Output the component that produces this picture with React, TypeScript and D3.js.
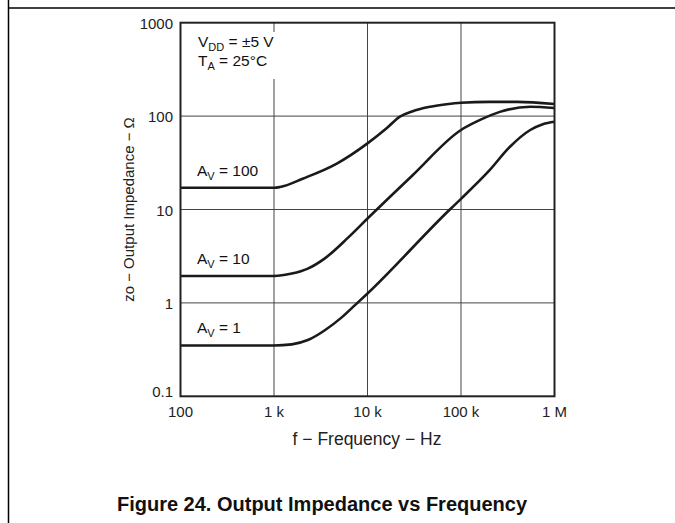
import React from "react";
import * as d3 from "d3";

const xTicks = [100, 1000, 10000, 100000, 1000000];
const xTickLabels = ["100", "1 k", "10 k", "100 k", "1 M"];
const yTicks = [0.1, 1, 10, 100, 1000];
const yTickLabels = ["0.1", "1", "10", "100", "1000"];

const freqAv100 = [100, 1000, 1160, 2060, 4700, 10000, 16000, 22000, 30000, 45000, 70000, 100000, 200000, 400000, 1000000];
const zAv100 = [17.1, 17.1, 17.4, 21.5, 31, 51, 74, 98, 112, 125, 134, 139, 142, 142, 135];

const freqAv10 = [100, 1000, 1550, 2300, 3500, 6200, 10000, 30000, 100000, 160000, 260000, 550000, 1000000];
const zAv10 = [1.94, 1.94, 2.06, 2.33, 3.0, 5.0, 8, 23, 71, 91, 111, 126, 122];

const freqAv1 = [100, 1000, 1550, 2300, 3500, 5300, 7300, 10000, 76000, 100000, 200000, 334000, 550000, 750000, 1000000];
const zAv1 = [0.35, 0.35, 0.36, 0.4, 0.51, 0.7, 0.94, 1.26, 10, 13, 26, 47, 71, 82, 87];

const seriesNames = ["100", "10", "1"];
const labelValues = [17.1, 1.94, 0.35];

export default function App() {
  const W = 675, H = 523;
  const x0 = 180.5, x1 = 554.5, y0 = 22.7, y1 = 396.3;
  const x = d3.scaleLog().domain([100, 1000000]).range([x0, x1]);
  const y = d3.scaleLog().domain([0.1, 1000]).range([y1, y0]);
  const line = d3
    .line<[number, number]>()
    .x((d) => x(d[0]))
    .y((d) => y(d[1]))
    .curve(d3.curveMonotoneX);
  const series = [
    freqAv100.map((f, i) => [f, zAv100[i]] as [number, number]),
    freqAv10.map((f, i) => [f, zAv10[i]] as [number, number]),
    freqAv1.map((f, i) => [f, zAv1[i]] as [number, number]),
  ];
  const font = "'Liberation Sans', Arial, sans-serif";
  const gridColor = "#444";
  const fs = 15;
  const lfs = 15.5;
  const sfs = 11;
  return (
    <svg width={W} height={H} style={{ position: "absolute", left: 0, top: 0 }} fontFamily={font}>
      <rect x={0} y={0} width={W} height={H} fill="#fff" />
      {/* page frame */}
      <line x1={8.5} y1={0} x2={8.5} y2={H} stroke="#000" strokeWidth={1.5} />
      <line x1={8} y1={8} x2={W} y2={8} stroke="#000" strokeWidth={1.5} />
      {/* grid */}
      {xTicks.slice(1, -1).map((t) => (
        <line key={"gx" + t} x1={x(t)} x2={x(t)} y1={y0} y2={y1} stroke={gridColor} strokeWidth={1} />
      ))}
      {yTicks.slice(1, -1).map((t) => (
        <line key={"gy" + t} x1={x0} x2={x1} y1={y(t)} y2={y(t)} stroke={gridColor} strokeWidth={1} />
      ))}
      {/* annotation mask */}
      <rect x={190} y={32} width={100} height={47} fill="#fff" />
      <text x={198} y={47} fontSize={lfs} fill="#111">
        V<tspan fontSize={sfs} dy={4}>DD</tspan>
        <tspan dy={-4}> = ±5 V</tspan>
      </text>
      <text x={198} y={65.5} fontSize={lfs} fill="#111">
        T<tspan fontSize={sfs} dy={4}>A</tspan>
        <tspan dy={-4}> = 25°C</tspan>
      </text>
      {/* curves */}
      {series.map((s, i) => (
        <path key={"s" + i} d={line(s) || ""} fill="none" stroke="#1a1a1a" strokeWidth={2.6} />
      ))}
      {/* curve labels */}
      {seriesNames.map((n, i) => (
        <text key={"l" + i} x={197} y={y(labelValues[i]) - 12} fontSize={lfs} fill="#111">
          A<tspan fontSize={sfs} dy={4}>V</tspan>
          <tspan dy={-4}> = {n}</tspan>
        </text>
      ))}
      {/* frame */}
      <rect x={x0} y={y0} width={x1 - x0} height={y1 - y0} fill="none" stroke="#222" strokeWidth={2} />
      {/* y ticks */}
      {yTicks.map((t, i) => (
        <text key={"yt" + t} x={173} y={y(t) + (i === 0 ? 1 : 6)} fontSize={fs} textAnchor="end" fill="#222">
          {yTickLabels[i]}
        </text>
      ))}
      {xTicks.map((t, i) => (
        <text key={"xt" + t} x={x(t)} y={417} fontSize={fs} textAnchor="middle" fill="#222">
          {xTickLabels[i]}
        </text>
      ))}
      <text x={367} y={445} fontSize={17.5} textAnchor="middle" fill="#222">
        f − Frequency − Hz
      </text>
      <text transform={`translate(134, ${(y0 + y1) / 2}) rotate(-90)`} fontSize={15} textAnchor="middle" fill="#222">
        zo − Output Impedance − Ω
      </text>
      <text x={322} y={511} fontSize={20} fontWeight="bold" textAnchor="middle" fill="#111">
        Figure 24. Output Impedance vs Frequency
      </text>
    </svg>
  );
}
